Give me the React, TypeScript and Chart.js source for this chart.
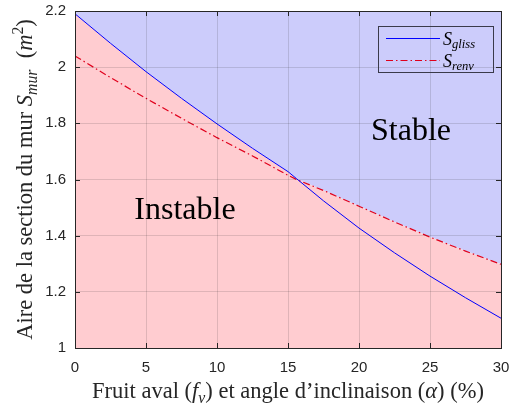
import React, { useEffect, useRef } from "react";
import { Chart, registerables } from "chart.js";

Chart.register(...registerables);

// Data
const xs = [0, 2.5, 5, 7.5, 10, 12.5, 15, 15.6, 17.5, 20, 22.5, 25, 27.5, 30];
const sGliss = [2.19, 2.085, 1.984, 1.889, 1.798, 1.711, 1.628, 1.603, 1.524, 1.427, 1.339, 1.256, 1.179, 1.106];
const sRenv = [2.04, 1.963, 1.889, 1.818, 1.749, 1.684, 1.615, 1.6, 1.561, 1.505, 1.449, 1.395, 1.345, 1.298];
const xTicks = [0, 5, 10, 15, 20, 25, 30];
const yTicks = [1, 1.2, 1.4, 1.6, 1.8, 2, 2.2];
const legendLabels = [
  { main: "S", sub: "gliss" },
  { main: "S", sub: "renv" },
];
const regionLabels = ["Stable", "Instable"];

const AXIS = "#262626";
const SERIF = "'Liberation Serif', 'DejaVu Serif', serif";
const SANS = "'Liberation Sans', Arial, sans-serif";

type Seg = { t: string; it?: boolean; sub?: boolean; sup?: boolean };

function segFont(s: Seg, F: number) {
  const size = s.sub || s.sup ? F * 0.7 : F;
  return `${s.it ? "italic " : ""}${size}px ${SERIF}`;
}
function richWidth(ctx: CanvasRenderingContext2D, segs: Seg[], F: number) {
  let w = 0;
  for (const s of segs) {
    ctx.font = segFont(s, F);
    w += ctx.measureText(s.t).width;
  }
  return w;
}
function drawRich(ctx: CanvasRenderingContext2D, segs: Seg[], x: number, y: number, F: number, align: "left" | "center") {
  let cx = align === "center" ? x - richWidth(ctx, segs, F) / 2 : x;
  ctx.textAlign = "left";
  ctx.textBaseline = "alphabetic";
  for (const s of segs) {
    ctx.font = segFont(s, F);
    const dy = s.sub ? F * 0.22 : s.sup ? -F * 0.38 : 0;
    ctx.fillText(s.t, cx, y + dy);
    cx += ctx.measureText(s.t).width;
  }
}

const xTitle: Seg[] = [
  { t: "Fruit aval (" },
  { t: "f", it: true },
  { t: "v", it: true, sub: true },
  { t: ") et angle d\u2019inclinaison (" },
  { t: "\u03b1", it: true },
  { t: ") (%)" },
];
const yTitle: Seg[] = [
  { t: "Aire de la section du mur " },
  { t: "S", it: true },
  { t: "mur", it: true, sub: true },
  { t: "  (" },
  { t: "m", it: true },
  { t: "2", sup: true },
  { t: ")" },
];

const decor = {
  id: "decor",
  afterDraw(chart: any) {
    const ctx: CanvasRenderingContext2D = chart.ctx;
    const { left, right, top, bottom } = chart.chartArea;
    const xs_ = chart.scales.x;
    const ys_ = chart.scales.y;
    ctx.save();
    // box
    ctx.strokeStyle = AXIS;
    ctx.lineWidth = 1;
    ctx.beginPath();
    ctx.moveTo(left, Math.round(top) + 0.5);
    ctx.lineTo(right, Math.round(top) + 0.5);
    ctx.moveTo(Math.round(right) + 0.5, top);
    ctx.lineTo(Math.round(right) + 0.5, bottom);
    // inward ticks
    const tl = 5;
    for (const v of xTicks) {
      const px = Math.round(xs_.getPixelForValue(v)) + 0.5;
      ctx.moveTo(px, bottom);
      ctx.lineTo(px, bottom - tl);
      ctx.moveTo(px, top);
      ctx.lineTo(px, top + tl);
    }
    for (const v of yTicks) {
      const py = Math.round(ys_.getPixelForValue(v)) + 0.5;
      ctx.moveTo(left, py);
      ctx.lineTo(left + tl, py);
      ctx.moveTo(right, py);
      ctx.lineTo(right - tl, py);
    }
    ctx.stroke();

    // legend
    const lx = 378.5, ly = 26.5, lw = 115, lh = 46;
    ctx.strokeStyle = "#3a3a4a";
    ctx.lineWidth = 1;
    ctx.strokeRect(lx, ly, lw, lh);
    const rows = [
      { y: 38.5, color: "#0000ff", dash: [] as number[] },
      { y: 60.5, color: "#e0001c", dash: [7, 3, 1.5, 3] },
    ];
    rows.forEach((r, i) => {
      ctx.beginPath();
      ctx.strokeStyle = r.color;
      ctx.setLineDash(r.dash);
      ctx.moveTo(386, r.y);
      ctx.lineTo(440, r.y);
      ctx.stroke();
      ctx.setLineDash([]);
      ctx.fillStyle = "#000";
      drawRich(
        ctx,
        [
          { t: legendLabels[i].main, it: true },
          { t: legendLabels[i].sub, it: true, sub: true },
        ],
        443,
        r.y + 6,
        18,
        "left"
      );
    });

    // region labels
    ctx.fillStyle = "#000";
    ctx.font = `32px ${SERIF}`;
    ctx.textAlign = "center";
    ctx.textBaseline = "alphabetic";
    ctx.fillText(regionLabels[0], 411, 140);
    ctx.fillText(regionLabels[1], 185, 219);

    // axis titles
    ctx.fillStyle = "#262626";
    drawRich(ctx, xTitle, (left + right) / 2, 398, 22.5, "center");
    ctx.save();
    ctx.translate(32, (top + bottom) / 2);
    ctx.rotate(-Math.PI / 2);
    drawRich(ctx, yTitle, 0, 0, 22.5, "center");
    ctx.restore();
    ctx.restore();
  },
};

const zeroPad = (s: any) => {
  s.paddingTop = 0;
  s.paddingBottom = 0;
  s.paddingLeft = 0;
  s.paddingRight = 0;
};

export default function App() {
  const ref = useRef<HTMLCanvasElement>(null);
  useEffect(() => {
    document.body.style.margin = "0";
    const envelope = xs.map((x, i) => ({ x, y: Math.max(sGliss[i], sRenv[i]) }));
    const chart = new Chart(ref.current!, {
      type: "line",
      data: {
        datasets: [
          {
            label: "S_gliss",
            data: xs.map((x, i) => ({ x, y: sGliss[i] })),
            borderColor: "#0000ff",
            borderWidth: 1,
            pointRadius: 0,
            fill: false,
            tension: 0,
            order: 0,
          },
          {
            label: "S_renv",
            data: xs.map((x, i) => ({ x, y: sRenv[i] })),
            borderColor: "#e0001c",
            borderWidth: 1.2,
            borderDash: [7, 3, 1.5, 3],
            pointRadius: 0,
            fill: false,
            tension: 0,
            order: 0,
          },
          {
            label: "instable",
            data: envelope,
            borderWidth: 0,
            borderColor: "transparent",
            backgroundColor: "#ffccd0",
            pointRadius: 0,
            fill: "start",
            order: 2,
          },
          {
            label: "stable",
            data: envelope,
            borderWidth: 0,
            borderColor: "transparent",
            backgroundColor: "#ccccfb",
            pointRadius: 0,
            fill: "end",
            order: 3,
          },
        ],
      },
      options: {
        responsive: false,
        animation: false,
        layout: { padding: { left: 0, right: 11, top: 11, bottom: 0 } },
        plugins: { legend: { display: false }, tooltip: { enabled: false } },
        scales: {
          x: {
            type: "linear",
            min: 0,
            max: 30,
            afterBuildTicks: (s: any) => {
              s.ticks = xTicks.map((v) => ({ value: v }));
            },
            afterFit: (s: any) => {
              s.height = 57;
              zeroPad(s);
            },
            ticks: {
              font: { family: SANS, size: 15 },
              color: AXIS,
              padding: 11,
              maxRotation: 0,
              callback: (v: any) => String(v),
            },
            grid: { color: "rgba(38,38,38,0.15)", drawTicks: false, z: 1 },
            border: { display: true, color: AXIS, z: 1 },
          },
          y: {
            type: "linear",
            min: 1,
            max: 2.2,
            afterBuildTicks: (s: any) => {
              s.ticks = yTicks.map((v) => ({ value: v }));
            },
            afterFit: (s: any) => {
              s.width = 75;
              zeroPad(s);
            },
            ticks: {
              font: { family: SANS, size: 15 },
              color: AXIS,
              padding: 9,
              callback: (v: any) => String(Number(Number(v).toFixed(1))),
            },
            grid: { color: "rgba(38,38,38,0.15)", drawTicks: false, z: 1 },
            border: { display: true, color: AXIS, z: 1 },
          },
        },
      },
      plugins: [decor],
    });
    return () => chart.destroy();
  }, []);
  return (
    <div style={{ width: 512, height: 405 }}>
      <canvas ref={ref} width={512} height={405} />
    </div>
  );
}
